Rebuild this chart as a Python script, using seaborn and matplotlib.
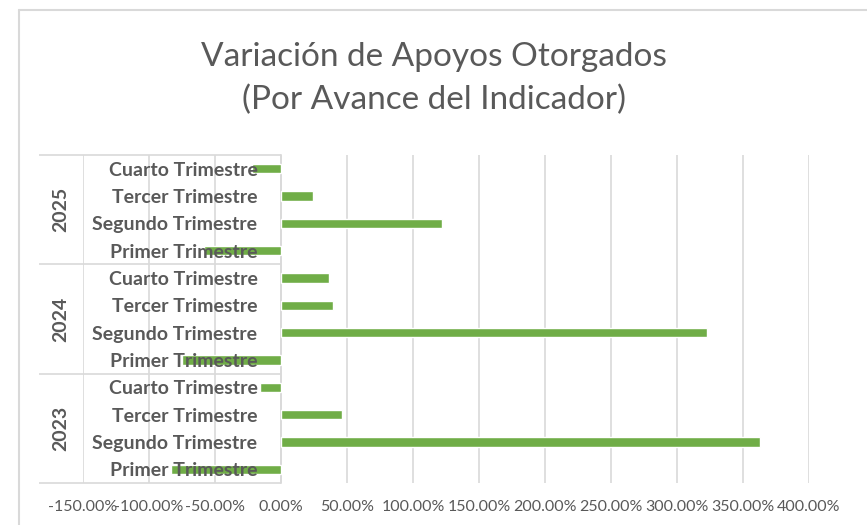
import pandas as pd
import matplotlib
matplotlib.use('Agg')
import matplotlib.pyplot as plt
import seaborn as sns
from matplotlib.lines import Line2D
from matplotlib.ticker import FuncFormatter

# Data (percent change per quarter)
years = ['2025', '2024', '2023']
quarters = ['Cuarto Trimestre', 'Tercer Trimestre', 'Segundo Trimestre', 'Primer Trimestre']
values_2025 = [-22, 24, 122, -58]
values_2024 = [36, 39.5, 323, -75]
values_2023 = [-16, 46, 363, -83]
x_ticks = list(range(-150, 401, 50))

rows = []
for year, vals in zip(years, [values_2025, values_2024, values_2023]):
    for q, v in zip(quarters, vals):
        rows.append({'Year': year, 'Quarter': q, 'Key': year + ' ' + q, 'Value': v})
df = pd.DataFrame(rows)

sns.set_style('white')
plt.rcParams['font.family'] = ['Lato', 'DejaVu Sans']
grey = '#595959'
line_grey = '#D9D9D9'

fig = plt.figure(figsize=(8.67, 5.25), dpi=100)
ax = fig.add_axes([83 / 867, 1 - 483 / 525, 726 / 867, 328 / 525])

sns.barplot(data=df, x='Value', y='Key', order=df['Key'].tolist(), orient='h',
            color='#70AD47', saturation=1, width=0.35, ax=ax)

ax.set_xlim(-150, 400)
ax.set_ylim(len(df) - 0.5, -0.5)
ax.set_xticks(x_ticks)
ax.xaxis.set_major_formatter(FuncFormatter(lambda v, p: f'{v:.2f}%'))
ax.grid(axis='x', color=line_grey, linewidth=1.2)
ax.set_axisbelow(True)
ax.yaxis.set_zorder(3)  # category labels drawn over the bars, like Excel
ax.set_xlabel('')
ax.set_ylabel('')

for s in ['top', 'right', 'bottom']:
    ax.spines[s].set_visible(False)
ax.spines['left'].set_position(('data', 0))
ax.spines['left'].set_color(line_grey)
ax.spines['left'].set_linewidth(1.2)
ax.spines['left'].set_zorder(0.5)

ax.set_yticks(range(len(df)))
ax.set_yticklabels(df['Quarter'], fontsize=14, fontweight='bold', color=grey)
ax.tick_params(axis='y', length=0, pad=17)
ax.tick_params(axis='x', length=0, pad=12, labelsize=11.5, labelcolor=grey)

# multi-level category axis: group separators and year labels
for b in [-0.5, 3.5, 7.5, 11.5]:
    ax.hlines(b, -183.5, 0, color=line_grey, linewidth=1.2, clip_on=False, zorder=0.5)
for i, year in enumerate(years):
    ax.text(-0.03, 1.5 + 4 * i, year, transform=ax.get_yaxis_transform(),
            rotation=90, ha='center', va='center', fontsize=14,
            fontweight='bold', color=grey)

fig.text(0.5, 1 - 57 / 525, 'Variación de Apoyos Otorgados', ha='center', va='center',
         fontsize=24, color=grey)
fig.text(0.5, 1 - 100 / 525, '(Por Avance del Indicador)', ha='center', va='center',
         fontsize=24, color=grey)

# chart border
fig.add_artist(Line2D([19 / 867, 1], [1 - 10 / 525, 1 - 10 / 525], color=line_grey, lw=1.5))
fig.add_artist(Line2D([19 / 867, 19 / 867], [0, 1 - 10 / 525], color=line_grey, lw=1.5))

fig.savefig('out.png', dpi=100)
